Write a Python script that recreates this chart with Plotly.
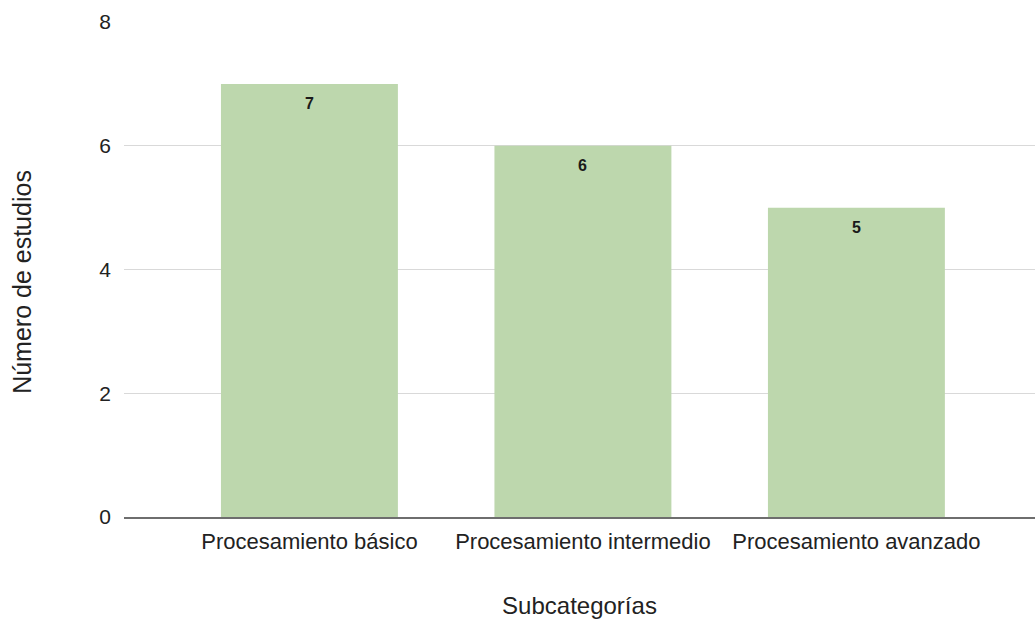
import plotly.graph_objects as go

categories = ["Procesamiento básico", "Procesamiento intermedio", "Procesamiento avanzado"]
studies = [7, 6, 5]

bar_color = "#bdd7ad"

fig = go.Figure()
fig.add_trace(go.Bar(
    x=list(range(len(categories))),
    y=studies,
    width=0.647,
    marker=dict(color=bar_color, line=dict(width=0)),
    hoverinfo="skip",
))

# value labels just under the top of each bar
for i, v in enumerate(studies):
    fig.add_annotation(
        x=i, y=v, text=f"<b>{v}</b>", showarrow=False,
        yshift=-20, font=dict(family="Arial", size=16, color="#1a1a1a"),
    )

# vertical axis title
fig.add_annotation(
    xref="paper", yref="paper", x=-0.112, y=0.475,
    xanchor="center", yanchor="middle",
    text="Número de estudios", textangle=-90, showarrow=False,
    font=dict(family="Arial", size=25, color="#222222"),
)

fig.update_layout(
    width=1035, height=622,
    margin=dict(l=124, r=0, t=22, b=105),
    plot_bgcolor="white", paper_bgcolor="white",
    showlegend=False,
    font=dict(family="Arial", size=22, color="#222222"),
    xaxis=dict(
        range=[-0.678, 2.653],
        tickmode="array",
        tickvals=list(range(len(categories))),
        ticktext=categories,
        showgrid=False, zeroline=False,
        showline=True, linecolor="#6e6e6e", linewidth=1.5,
        ticks="", ticklabelstandoff=4,
        tickfont=dict(size=22, color="#222222"),
        title=dict(text="Subcategorías", font=dict(size=24, color="#222222"), standoff=44),
    ),
    yaxis=dict(
        range=[0, 8], dtick=2,
        showgrid=True, gridcolor="#d9d9d9", gridwidth=1,
        zeroline=False, showline=False,
        ticks="", ticklabelstandoff=12,
        tickfont=dict(size=21, color="#222222"),
    ),
)

fig.write_html("out.html")
